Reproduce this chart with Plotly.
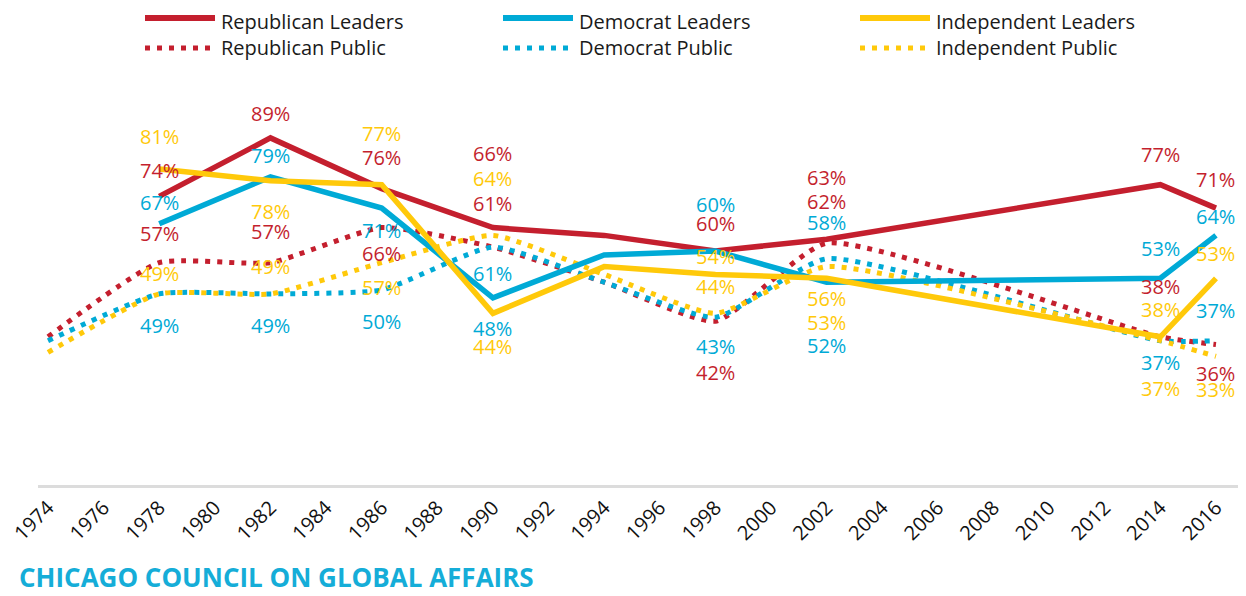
import plotly.graph_objects as go

# ---------------- data ----------------
years_leaders = [1978, 1982, 1986, 1990, 1994, 1998, 2002, 2014, 2016]
rep_leaders = [74, 89, 76, 66, 64, 60, 63, 77, 71]
dem_leaders = [67, 79, 71, 48, 59, 60, 52, 53, 64]
ind_leaders = [81, 78, 77, 44, 56, 54, 53, 38, 53]

years_public = [1974, 1978, 1982, 1986, 1990, 1994, 1998, 2002, 2014, 2016]
rep_public = [38, 57, 57, 66, 61, 52, 42, 62, 38, 36]
dem_public = [37, 49, 49, 50, 61, 52, 43, 58, 37, 37]
ind_public = [34, 49, 49, 57, 64, 54, 44, 56, 37, 33]

tick_years = list(range(1974, 2017, 2))
labeled_years = [1978, 1982, 1986, 1990, 1998, 2002, 2014, 2016]

# ---------------- styles ----------------
RED = "#C41F2E"
BLUE = "#00AAD6"
YEL = "#FFC90A"
OFF = 8  # page body margin
W, H = 1246 - OFF, 596 - OFF
ML, MT = 38 - OFF, 95 - OFF
MB = H - (485 - OFF)
MR = W - (1241 - OFF)
PW, PH = W - ML - MR, H - MT - MB

# label vertical offsets in pixels (negative = above the point)
label_offsets = {
    "rep_leaders": [-26, -24, -31, -74, -28, -62, -30, -29],
    "dem_leaders": [-21, -21, 22, 31, -47, 63, -30, -19],
    "ind_leaders": [-33, 31, -51, 33, -18, 44, -27, -25],
    "rep_public": [-29, -31, 26, -44, 51, -42, -50, 29],
    "dem_public": [32, 32, 31, 26, 29, -36, 22, -30],
    "ind_public": [-20, -27, 25, -57, -27, 32, 48, 33],
}

series = [
    ("rep_public", "Republican Public", years_public, rep_public, RED, "dot"),
    ("dem_public", "Democrat Public", years_public, dem_public, BLUE, "dot"),
    ("ind_public", "Independent Public", years_public, ind_public, YEL, "dot"),
    ("rep_leaders", "Republican Leaders", years_leaders, rep_leaders, RED, "solid"),
    ("dem_leaders", "Democrat Leaders", years_leaders, dem_leaders, BLUE, "solid"),
    ("ind_leaders", "Independent Leaders", years_leaders, ind_leaders, YEL, "solid"),
]

DOT = "5px,7px"

fig = go.Figure()
for key, name, xs, ys, col, style in series:
    if style == "dot":
        line = dict(color=col, width=5, dash=DOT, shape="spline", smoothing=0.5)
    else:
        line = dict(color=col, width=5.5)
    fig.add_trace(go.Scatter(x=xs, y=ys, mode="lines", name=name, line=line,
                             showlegend=False, hoverinfo="skip"))

annotations = []
for key, name, xs, ys, col, style in series:
    offs = label_offsets[key]
    for yr, off in zip(labeled_years, offs):
        v = ys[xs.index(yr)]
        annotations.append(dict(
            x=yr, y=v, xref="x", yref="y", text=f"{v}%", showarrow=False,
            yshift=-off, xanchor="center", yanchor="middle",
            font=dict(family="Open Sans", size=20, color=col, weight=500)))


def px_x(p):
    return (p - OFF - ML) / PW


def px_y(p):
    return (H - MB - (p - OFF)) / PH


shapes = []
legend_items = [
    ("Republican Leaders", RED, "solid", 145, 18),
    ("Democrat Leaders", BLUE, "solid", 503, 18),
    ("Independent Leaders", YEL, "solid", 860, 18),
    ("Republican Public", RED, "dot", 145, 48),
    ("Democrat Public", BLUE, "dot", 503, 48),
    ("Independent Public", YEL, "dot", 860, 48),
]
for text, col, style, x0, yy in legend_items:
    shapes.append(dict(type="line", xref="paper", yref="paper",
                       x0=px_x(x0), x1=px_x(x0 + 70), y0=px_y(yy), y1=px_y(yy),
                       line=dict(color=col, width=6 if style == "solid" else 5,
                                 dash="solid" if style == "solid" else DOT)))
    annotations.append(dict(x=px_x(x0 + 75), y=px_y(max(yy, 21)), xref="paper", yref="paper",
                            text=text, showarrow=False, xanchor="left", yanchor="middle",
                            borderpad=0,
                            font=dict(family="Open Sans", size=20, color="#1a1a1a")))

annotations.append(dict(x=px_x(18), y=px_y(577), xref="paper", yref="paper",
                        text="<b>CHICAGO COUNCIL ON GLOBAL AFFAIRS</b>", showarrow=False,
                        xanchor="left", yanchor="middle", borderpad=0,
                        font=dict(family="Open Sans", size=26, color="#15ADD8")))

fig.update_layout(
    width=W, height=H,
    margin=dict(l=ML, r=MR, t=MT, b=MB, autoexpand=False),
    paper_bgcolor="white", plot_bgcolor="white",
    xaxis=dict(range=[1973.64, 2016.9], tickvals=tick_years,
               ticktext=[str(t) for t in tick_years], tickangle=-45,
               ticklabeloverflow="allow",
               showgrid=False, zeroline=False, showline=True,
               linecolor="#dcdcdc", linewidth=3, ticks="",
               tickfont=dict(family="Open Sans", size=20, color="#111111")),
    yaxis=dict(range=[0, 100], visible=False, showgrid=False, zeroline=False),
    annotations=annotations, shapes=shapes,
)

fig.write_html("out.html")
